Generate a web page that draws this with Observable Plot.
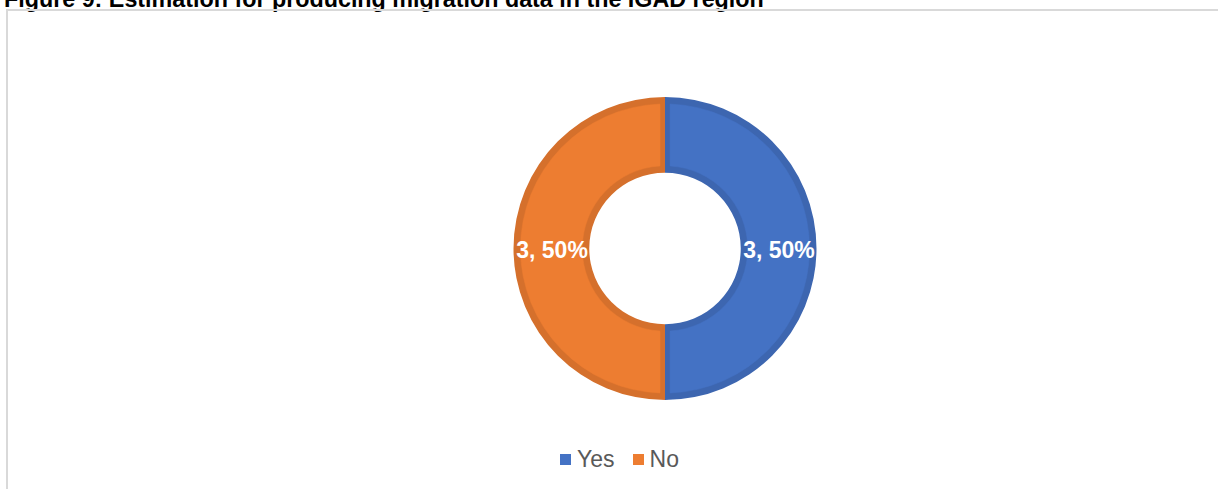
<!DOCTYPE html>
<html>
<head>
<meta charset="utf-8">
<script src="https://cdn.jsdelivr.net/npm/d3@7"></script>
<script src="https://cdn.jsdelivr.net/npm/@observablehq/plot@0.6"></script>
<style>
  html, body { margin: 0; padding: 0; background: #fff; overflow: hidden; width: 1218px; height: 489px; }
  #wrap { position: relative; width: 1218px; height: 489px; }
  #title { position: absolute; left: 4px; top: -12.5px; font: bold 23.3px/23px "Liberation Sans", Arial, sans-serif; color: #000; white-space: nowrap; }
  #box { position: absolute; left: 6px; top: 9px; width: 1240px; height: 520px; border: 2px solid #d9d9d9; box-sizing: border-box; }
  #chart { position: absolute; left: 0; top: 0; }
  #legend { position: absolute; left: 560px; top: 447.5px; font: 23px/23px "Liberation Sans", Arial, sans-serif; color: #595959; display: flex; white-space: nowrap; }
  .item { display: flex; align-items: center; margin-right: 18px; }
  .sw { width: 11px; height: 11px; margin-right: 6px; margin-top: 1px; }
</style>
</head>
<body>
<div id="wrap">
  <div id="title"></div>
  <div id="box"></div>
  <div id="chart"></div>
  <div id="legend"></div>
</div>
<script>
const titleText = "Figure 9: Estimation for producing migration data in the IGAD region";
const categories = ["Yes", "No"];
const counts = [3, 3];
const colors = ["#4472C4", "#ED7D31"];

const innerRatio = 0.5;   // hole radius / outer radius
const labelRatio = 0.749; // label radius / outer radius
const edge = 7;           // darker rim width (px)

document.getElementById("title").textContent = titleText;

const data = categories.map((c, i) => ({category: c, count: counts[i]}));
const total = d3.sum(counts);
const slices = d3.pie().value(d => d.count).sort(null)(data);
const labels = slices.map(p => {
  const a = (p.startAngle + p.endAngle) / 2;
  return {
    x: labelRatio * Math.sin(a),
    y: labelRatio * Math.cos(a),
    text: `${p.data.count}, ${Math.round(p.data.count / total * 100)}%`
  };
});

function ring(index, scales) {
  const {x, y, color} = scales;
  const cx = x(0), cy = y(0);
  const R = x(1) - x(0), r = x(innerRatio) - x(0);
  const g = d3.create("svg:g").attr("transform", `translate(${cx},${cy})`);
  const outer = d3.arc().innerRadius(r).outerRadius(R);
  const inner = d3.arc().innerRadius(r + edge).outerRadius(R - edge).padAngle(0.10).padRadius(100);
  g.selectAll("path.o").data(slices).join("path")
    .attr("class", "o")
    .attr("d", d => outer({...d, padAngle: 0}))
    .attr("fill", d => d3.color(color(d.data.category)).darker(0.3).formatHex());
  g.selectAll("path.i").data(slices).join("path")
    .attr("class", "i")
    .attr("d", d => inner(d))
    .attr("fill", d => color(d.data.category))
    .attr("stroke", d => color(d.data.category))
    .attr("stroke-width", 0.5);
  return g.node();
}

const plot = Plot.plot({
  width: 1218,
  height: 489,
  margin: 0,
  style: {background: "transparent"},
  x: {domain: [-1, 1], range: [665 - 151.5, 665 + 151.5], axis: null},
  y: {domain: [-1, 1], range: [248.5 + 151.5, 248.5 - 151.5], axis: null},
  color: {domain: categories, range: colors},
  marks: [
    ring,
    Plot.text(labels, {
      x: "x", y: "y", text: "text",
      fill: "white", fontSize: 23, fontWeight: "bold",
      fontFamily: "Liberation Sans, Arial, sans-serif",
      dy: 2
    })
  ]
});
document.getElementById("chart").appendChild(plot);

const legend = document.getElementById("legend");
categories.forEach((c, i) => {
  const item = document.createElement("div");
  item.className = "item";
  const sw = document.createElement("div");
  sw.className = "sw";
  sw.style.background = colors[i];
  const t = document.createElement("span");
  t.textContent = c;
  item.appendChild(sw);
  item.appendChild(t);
  legend.appendChild(item);
});
</script>
</body>
</html>
